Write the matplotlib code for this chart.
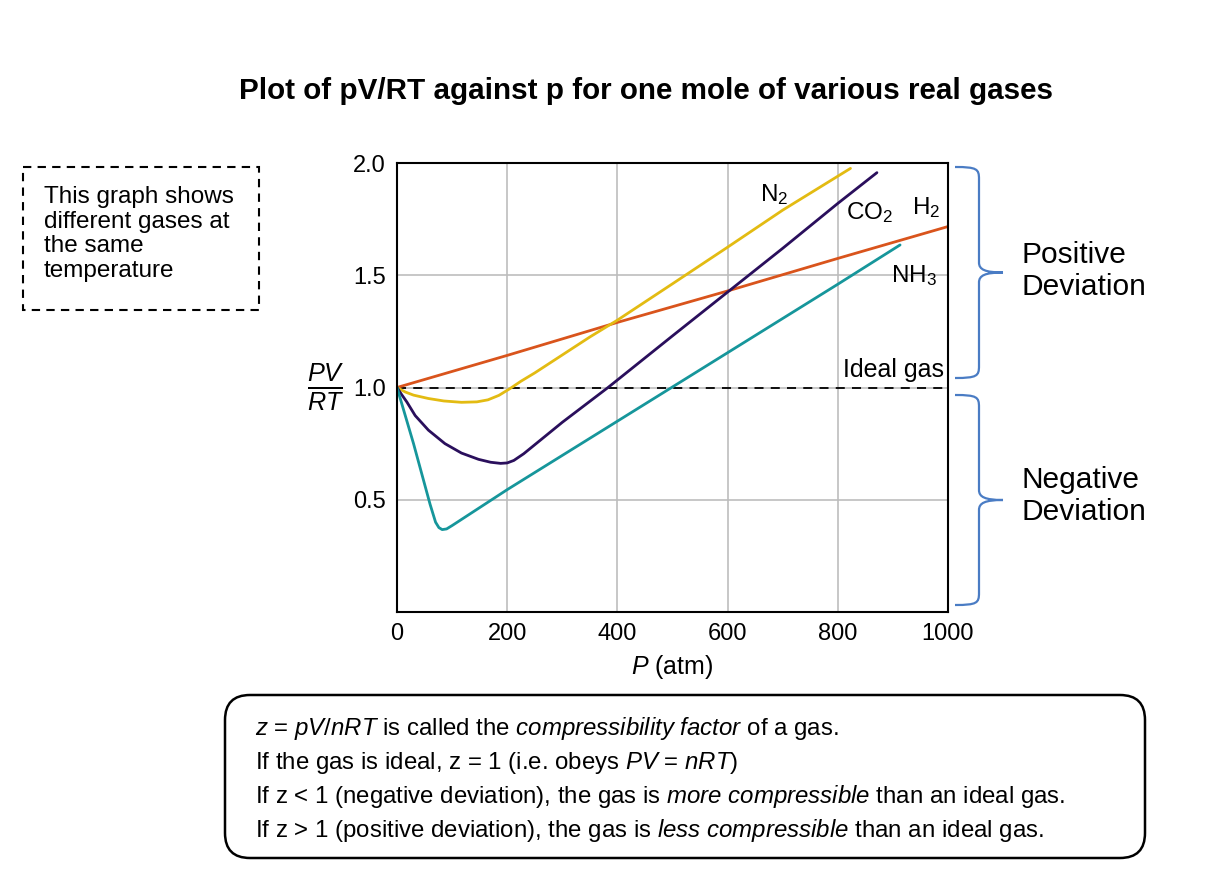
import numpy as np
import matplotlib.pyplot as plt
from matplotlib.path import Path
from matplotlib.patches import PathPatch, FancyBboxPatch, Rectangle

plt.rcParams['font.family'] = ['Liberation Sans', 'DejaVu Sans']
plt.rcParams['mathtext.fontset'] = 'custom'
plt.rcParams['mathtext.rm'] = 'Liberation Sans'
plt.rcParams['mathtext.it'] = 'Liberation Sans:italic'
plt.rcParams['mathtext.bf'] = 'Liberation Sans:bold'

# data: pressure (atm) vs pV/RT
p_h2 = [0, 200, 400, 600, 800, 1000]
z_h2 = [1.0, 1.143, 1.29, 1.43, 1.575, 1.717]

p_n2 = [0, 15, 30, 57, 85, 117, 145, 165, 185, 205, 225, 250, 300, 350, 400, 500, 600, 700, 823]
z_n2 = [1.0, 0.98, 0.966, 0.951, 0.94, 0.934, 0.936, 0.945, 0.965, 0.995, 1.028, 1.065, 1.145, 1.225, 1.30, 1.462, 1.625, 1.79, 1.976]

p_co2 = [0, 8, 18, 33, 57, 87, 117, 148, 170, 188, 200, 212, 230, 260, 300, 383, 500, 600, 700, 800, 871]
z_co2 = [1.0, 0.97, 0.935, 0.875, 0.81, 0.75, 0.708, 0.68, 0.667, 0.662, 0.664, 0.675, 0.705, 0.765, 0.845, 1.0, 1.23, 1.425, 1.62, 1.82, 1.957]

p_nh3 = [0, 30, 60, 70, 76, 82, 90, 100, 200, 400, 600, 800, 913]
z_nh3 = [1.0, 0.75, 0.48, 0.4, 0.376, 0.367, 0.37, 0.385, 0.545, 0.85, 1.155, 1.46, 1.635]

xticks = [0, 200, 400, 600, 800, 1000]
yticks = [0.5, 1.0, 1.5, 2.0]

W, H = 1218, 884
fig = plt.figure(figsize=(W / 100, H / 100), dpi=100)

# overlay in pixel coordinates for annotations
ov = fig.add_axes([0, 0, 1, 1])
ov.set_xlim(0, W)
ov.set_ylim(H, 0)
ov.axis('off')

ax = fig.add_axes([397 / W, 1 - 612 / H, 551 / W, 449 / H])
ax.set_xlim(0, 1000)
ax.set_ylim(0, 2.0)
ax.set_xticks(xticks)
ax.set_yticks(yticks)
ax.tick_params(length=0, labelsize=17, pad=8)
ax.grid(True, color='#bdbdbd', lw=1.2)
for s in ax.spines.values():
    s.set_linewidth(1.5)

ax.axhline(1.0, color='black', lw=1.3, ls=(0, (5, 4)))
curve = dict(lw=2.0, solid_joinstyle='round', solid_capstyle='round')
ax.plot(p_h2, z_h2, color='#d9541c', **curve)
ax.plot(p_n2, z_n2, color='#e3bb12', **curve)
ax.plot(p_co2, z_co2, color='#2a0f5c', **curve)
ax.plot(p_nh3, z_nh3, color='#16969b', **curve)

lab = dict(fontsize=17.5, ha='center', va='center')
ax.text(684, 1.86, r'N$_2$', **lab)
ax.text(857, 1.78, r'CO$_2$', **lab)
ax.text(960, 1.8, r'H$_2$', **lab)
ax.text(939, 1.5, r'NH$_3$', **lab)
ax.text(992, 1.08, 'Ideal gas', fontsize=18, ha='right', va='center')

ax.set_xlabel(r'$P$ (atm)', fontsize=18, labelpad=6)
ax.set_ylabel(r'$\frac{PV}{RT}$', fontsize=26, rotation=0, va='center')
ax.yaxis.set_label_coords(-0.13, 0.5)

fig.text(646 / W, 1 - 91 / H, 'Plot of pV/RT against p for one mole of various real gases',
         fontsize=21.3, fontweight='bold', ha='center', va='center')

# dashed note box
ov.add_patch(Rectangle((23, 167), 236, 143, fill=False, ls=(0, (4, 3)), lw=1.5, ec='black'))
ov.text(44, 234, 'This graph shows\ndifferent gases at\nthe same\ntemperature',
        fontsize=17.5, va='center', ha='left', linespacing=1.15)


def brace(y0, y1, xl=955, xv=979, xt=1003):
    ym = (y0 + y1) / 2
    verts = [(xl, y0), (xv - 2, y0), (xv, y0 + 2), (xv, y0 + 12),
             (xv, ym - 10),
             (xv, ym - 3), (xv + 6, ym), (xt, ym),
             (xv + 6, ym), (xv, ym + 3), (xv, ym + 10),
             (xv, y1 - 12),
             (xv, y1 - 2), (xv - 2, y1), (xl, y1)]
    codes = [Path.MOVETO, Path.CURVE4, Path.CURVE4, Path.CURVE4,
             Path.LINETO,
             Path.CURVE4, Path.CURVE4, Path.CURVE4,
             Path.CURVE4, Path.CURVE4, Path.CURVE4,
             Path.LINETO,
             Path.CURVE4, Path.CURVE4, Path.CURVE4]
    ov.add_patch(PathPatch(Path(verts, codes), fill=False, ec='#4a7cc4', lw=1.6))


brace(167, 378)
brace(395, 605)
ov.text(1022, 271, 'Positive\nDeviation', fontsize=21.5, va='center', ha='left', linespacing=1.17)
ov.text(1022, 496, 'Negative\nDeviation', fontsize=21.5, va='center', ha='left', linespacing=1.17)

# rounded explanation box
ov.add_patch(FancyBboxPatch((225, 695), 920, 163, boxstyle='round,pad=0,rounding_size=25',
                            fill=False, ec='black', lw=1.8))
lines = [
    r'$\mathit{z}$ = $\mathit{pV/nRT}$ is called the $\mathit{compressibility\ factor}$ of a gas.',
    r'If the gas is ideal, z = 1 (i.e. obeys $\mathit{PV}$ = $\mathit{nRT}$)',
    r'If z < 1 (negative deviation), the gas is $\mathit{more\ compressible}$ than an ideal gas.',
    r'If z > 1 (positive deviation), the gas is $\mathit{less\ compressible}$ than an ideal gas.',
]
for i, t in enumerate(lines):
    ov.text(255, 729 + i * 33.7, t, fontsize=17.3, va='center', ha='left')

fig.savefig('out.png', dpi=100)
